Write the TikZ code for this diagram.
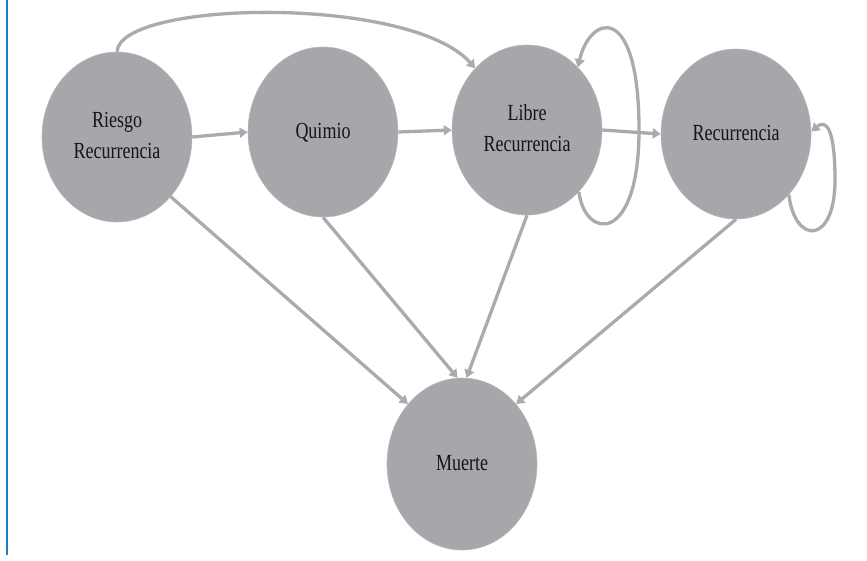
\documentclass[tikz,border=0pt]{standalone}
\usepackage{fontspec}
\setmainfont{Liberation Serif}
\usetikzlibrary{shapes.geometric,arrows.meta}
\definecolor{nodegray}{HTML}{A6A7AB}
\definecolor{linegray}{HTML}{ABABAD}
\definecolor{txt}{HTML}{151515}
\definecolor{edgeblue}{HTML}{1F7EC1}
\newcommand{\stretchtxt}[1]{\scalebox{1}[1.28]{\begin{tabular}{@{}c@{}}#1\end{tabular}}}
\begin{document}
\begin{tikzpicture}[x=1pt,y=-1pt,
  state/.style={ellipse,fill=nodegray,draw=nodegray!80!white,line width=0.6pt,
    minimum width=150pt,minimum height=170pt,inner sep=0pt,text=txt,
    font=\fontsize{18}{24}\selectfont},
  conn/.style={draw=linegray,line width=3.3pt,
    -{Triangle[length=8pt,width=10pt]}}]
\useasboundingbox (0,0) rectangle (867,560);
\draw[edgeblue,line width=2pt] (6.5,0) -- (6.5,555);
\node[state] (R) at (117,137) {\stretchtxt{Riesgo\\Recurrencia}};
\node[state] (Q) at (323,132) {\stretchtxt{Quimio}};
\node[state] (L) at (527,130) {\stretchtxt{Libre\\Recurrencia}};
\node[state] (C) at (736,134) {\stretchtxt{Recurrencia}};
\node[state,minimum height=172pt] (M) at (462,464) {\stretchtxt{Muerte}};
\draw[conn] (R.east) -- (Q.west);
\draw[conn] (Q.east) -- (L.west);
\draw[conn] (L.east) -- (C.west);
\draw[conn] (R.-48) -- (M.132);
\draw[conn] (Q.south) -- (M.93);
\draw[conn] (L.south) -- (M.87);
\draw[conn] (C.south) -- (M.48);
\draw[conn] (R.north) .. controls (120,0) and (410,-5) .. (L.130);
\coordinate (lr) at (639,130);
\draw[conn] (L.-50) .. controls (585,240) and (639,245) .. (lr)
  .. controls (639,0) and (590,15) .. (L.51);
\coordinate (cr) at (835,180);
\draw[conn] (C.-49) .. controls (795,245) and (835,245) .. (cr)
  .. controls (835,125) and (825,120) .. (C.2);
\end{tikzpicture}
\end{document}
